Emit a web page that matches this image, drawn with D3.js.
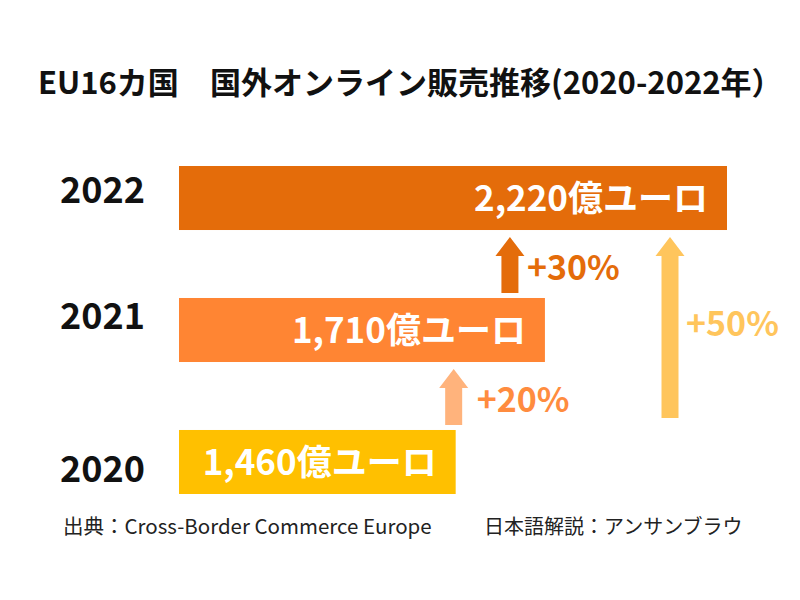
<!DOCTYPE html>
<html><head><meta charset="utf-8">
<script src="https://cdn.jsdelivr.net/npm/d3@7"></script>
<style>body{margin:0;background:#fff;} svg{display:block;} text{font-family:"Noto Sans CJK JP","Noto Sans",sans-serif;}</style>
</head><body>
<svg id="c" width="800" height="600"></svg>
<script>
const years = ["2022", "2021", "2020"];
const values = [2220, 1710, 1460];
const valueLabels = ["2,220億ユーロ", "1,710億ユーロ", "1,460億ユーロ"];
const barColors = ["#E46C0A", "#FF8533", "#FFC000"];
const growthLabels = ["+30%", "+20%", "+50%"];
const growthFrom = ["2021", "2020", "2020"];
const growthTo = ["2022", "2021", "2022"];
const arrowColors = ["#E46C0A", "#FFB37C", "#FFC55C"];
const growthTextColors = ["#E46C0A", "#FF8C3F", "#FFC55C"];
const titleParts = ["EU16カ国", "国外オンライン販売推移(2020-2022年）"];
const sourceText = "出典：Cross-Border Commerce Europe";
const creditText = "日本語解説：アンサンブラウ";

const svg = d3.select("#c");
const x = d3.scaleLinear().domain([685, 2220]).range([179, 727]);
const y = d3.scaleBand().domain(years).range([166, 494]).paddingInner(0.515).paddingOuter(0);
const val = Object.fromEntries(years.map((yr, i) => [yr, values[i]]));

const t = svg.append("text").attr("y", 94).attr("font-size", 31).attr("font-weight", 700).attr("fill", "#111");
t.append("tspan").attr("x", 38).text(titleParts[0]);
t.append("tspan").attr("x", 210).text(titleParts[1]);

// bars
svg.selectAll("rect.bar").data(years).join("rect").attr("class", "bar")
  .attr("x", x(685)).attr("y", d => y(d))
  .attr("width", (d, i) => x(values[i]) - x(685)).attr("height", y.bandwidth())
  .attr("fill", (d, i) => barColors[i]);

svg.selectAll("text.val").data(years).join("text").attr("class", "val")
  .attr("x", (d, i) => x(values[i]) - 19).attr("y", d => y(d) + y.bandwidth() / 2)
  .attr("dy", "0.36em").attr("text-anchor", "end").attr("font-size", 35).attr("font-weight", 700)
  .attr("fill", "#fff").text((d, i) => valueLabels[i]);

const yearOff = [-8, -14, 7];
svg.selectAll("text.yr").data(years).join("text").attr("class", "yr")
  .attr("x", 60).attr("y", (d, i) => y(d) + y.bandwidth() / 2 + yearOff[i])
  .attr("dy", "0.36em").attr("font-size", 36).attr("font-weight", 700)
  .attr("fill", "#111").text(d => d);

// arrows
const arrowOffsets = [-35, -2, -57];
const textOffsets = [17, 23, 16];
const headH = 19, shaftHalf = 8.5, headHalf = 14.5, gap = 7;
growthLabels.forEach((lab, i) => {
  const from = growthFrom[i], to = growthTo[i];
  const cx = (i === 2 ? x(val[to]) : x(val[from])) + arrowOffsets[i];
  const top = y(to) + y.bandwidth() + gap;
  const bottom = i === 2 ? y(from) - 12 : y(from) - 5;
  const p = d3.path();
  p.moveTo(cx - shaftHalf, bottom);
  p.lineTo(cx - shaftHalf, top + headH);
  p.lineTo(cx - headHalf, top + headH);
  p.lineTo(cx, top);
  p.lineTo(cx + headHalf, top + headH);
  p.lineTo(cx + shaftHalf, top + headH);
  p.lineTo(cx + shaftHalf, bottom);
  p.closePath();
  svg.append("path").attr("d", p.toString()).attr("fill", arrowColors[i]);
  const ty = i === 2 ? (top + bottom) / 2 - 4 : (top + bottom) / 2 + 3;
  svg.append("text").attr("x", cx + textOffsets[i]).attr("y", ty).attr("dy", "0.36em")
    .attr("font-size", 34).attr("font-weight", 700).attr("fill", growthTextColors[i]).text(lab);
});

svg.append("text").attr("x", 63).attr("y", 534).attr("font-size", 20.5).attr("fill", "#222").text(sourceText);
svg.append("text").attr("x", 484).attr("y", 534).attr("font-size", 20).attr("fill", "#222").text(creditText);
</script>
</body></html>
